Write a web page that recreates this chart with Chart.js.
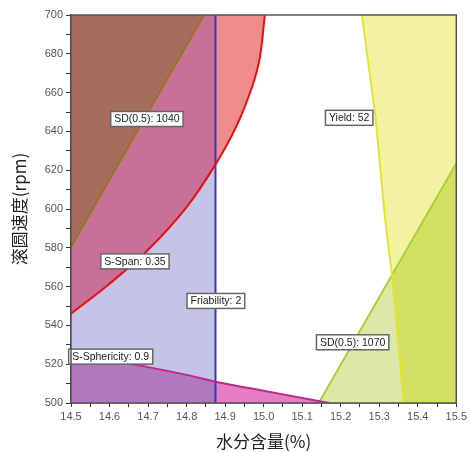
<!DOCTYPE html>
<html>
<head>
<meta charset="utf-8">
<script src="https://cdn.jsdelivr.net/npm/chart.js@4/dist/chart.umd.min.js"></script>
<style>
  html, body { margin: 0; padding: 0; background: #fff; }
  #wrap { width: 470px; height: 452px; }
</style>
</head>
<body>
<div id="wrap"><canvas id="myChart" width="470" height="452"></canvas></div>
<script>
// Contour lines (x = water content %, y = spheronizer speed rpm)
const friabilityX = 14.875;

const sdLowX = [14.5, 14.845];
const sdLowY = [580.5, 700];

const spanX = [14.5, 14.6, 14.7, 14.8, 14.875, 14.93, 14.97, 14.99, 15.003];
const spanY = [546, 561.5, 579, 601, 623, 643, 663, 678, 700];

const sphericityX = [14.5, 14.6, 14.7, 14.8, 14.875, 15.0, 15.1, 15.17];
const sphericityY = [525.5, 522, 518.5, 514.5, 511, 506.3, 502.6, 500];

const yieldX = [15.255, 15.29, 15.315, 15.333, 15.363];
const yieldY = [700, 648, 595, 566, 500];

const sdHighX = [15.143, 15.333, 15.5];
const sdHighY = [500, 566, 623.5];

const labelTexts = ['SD(0.5): 1040', 'Yield: 52', 'S-Span: 0.35', 'Friability: 2', 'S-Sphericity: 0.9', 'SD(0.5): 1070'];
const labelX = [14.697, 15.222, 14.666, 14.876, 14.603, 15.231];
const labelY = [646.4, 647, 573, 552.6, 523.9, 531.3];

// helpers
function pts(xs, ys) {
    return xs.map((x, i) => ({ x: x, y: ys[i] }));
}
function leftOf(points, limit) {
    return points.filter(p => p.x <= limit + 1e-9);
}
function rightOf(points, limit) {
    return points.filter(p => p.x >= limit - 1e-9);
}

const spanPts = pts(spanX, spanY);
const spherPts = pts(sphericityX, sphericityY);
const yieldPts = pts(yieldX, yieldY);
const sdHighPts = pts(sdHighX, sdHighY);
const sdLowPts = pts(sdLowX, sdLowY);

// a filled layer without outline
function area(data, fill, color, order, curved) {
    return {
        data: data, fill: fill, backgroundColor: color,
        borderWidth: 0, pointRadius: 0, order: order,
        tension: curved ? 0.35 : 0
    };
}
// a contour line on top
function edge(data, color, width, curved) {
    return {
        data: data, fill: false, borderColor: color, borderWidth: width,
        pointRadius: 0, order: 1,
        tension: curved ? 0.35 : 0
    };
}

const datasets = [
    // higher order is painted first
    area([{ x: 14.5, y: 700 }, { x: friabilityX, y: 700 }], 'start', '#c4c4e6', 20, false),
    area(spanPts, 'end', '#f08c8c', 19, true),
    area(leftOf(spanPts, friabilityX), 'end', '#c87096', 18, true),
    area(sdLowPts, 'end', '#a86c5c', 17, false),
    area(spherPts, 'start', '#e67cc2', 16, true),
    area(leftOf(spherPts, friabilityX), 'start', '#b078be', 15, true),
    area(yieldPts.concat([{ x: 15.5, y: 500 }]), 'end', '#f2f2a2', 14, false),
    area(sdHighPts, 'start', '#dce8aa', 13, false),
    area(rightOf(sdHighPts, 15.333), 'start', '#d2e064', 12, false),
    area(rightOf(yieldPts, 15.333), 'start', '#dce8aa', 11, false),

    edge(sdLowPts, '#967424', 2, false),
    edge(spanPts, '#e41010', 2, true),
    edge(spherPts, '#c02890', 2, true),
    edge(yieldPts, '#e6e628', 2, false),
    edge(sdHighPts, '#aad232', 2, false),
    edge([{ x: friabilityX, y: 500 }, { x: friabilityX, y: 700 }], '#3838b0', 2, false)
];

// boxed contour labels and the plot frame
const contourLabels = {
    id: 'contourLabels',
    afterDatasetsDraw(chart) {
        const ctx = chart.ctx;
        const xs = chart.scales.x, ys = chart.scales.y;
        ctx.save();
        ctx.font = '10.5px "Liberation Sans", Arial, sans-serif';
        ctx.textAlign = 'center';
        ctx.textBaseline = 'middle';
        labelTexts.forEach((t, i) => {
            const px = xs.getPixelForValue(labelX[i]);
            const py = ys.getPixelForValue(labelY[i]);
            const w = ctx.measureText(t).width + 7;
            const h = 15;
            ctx.fillStyle = '#fff';
            ctx.fillRect(px - w / 2, py - h / 2, w, h);
            ctx.strokeStyle = '#666';
            ctx.lineWidth = 1.5;
            ctx.strokeRect(px - w / 2, py - h / 2, w, h);
            ctx.fillStyle = '#222';
            ctx.fillText(t, px, py + 0.5);
        });
        ctx.restore();
    },
    afterDraw(chart) {
        const a = chart.chartArea;
        const ctx = chart.ctx;
        ctx.save();
        ctx.strokeStyle = '#555';
        ctx.lineWidth = 1.5;
        ctx.strokeRect(a.left, a.top, a.right - a.left, a.bottom - a.top);
        ctx.restore();
    }
};

const tickFont = { family: '"Liberation Sans", Arial, sans-serif', size: 11 };

new Chart(document.getElementById('myChart'), {
    type: 'line',
    data: { datasets: datasets },
    options: {
        responsive: false,
        animation: false,
        layout: { padding: { top: 15, right: 11, left: 0, bottom: 0 } },
        plugins: {
            legend: { display: false },
            tooltip: { enabled: false },
            filler: { propagate: false }
        },
        scales: {
            x: {
                type: 'linear', min: 14.5, max: 15.5,
                afterFit(scale) { scale.height = 49; },
                ticks: {
                    stepSize: 0.05, autoSkip: false, maxRotation: 0, padding: 3,
                    color: '#555', font: tickFont,
                    callback: v => Math.abs(v * 10 - Math.round(v * 10)) < 1e-6 ? v.toFixed(1) : ''
                },
                grid: { drawOnChartArea: false, color: '#333', tickLength: 4 },
                border: { color: '#333', width: 1.5 },
                title: {
                    display: true, text: '水分含量(%)', color: '#222',
                    font: { family: '"Noto Sans CJK SC", sans-serif', size: 17, lineHeight: 1 },
                    padding: { top: 0, bottom: 2 }
                }
            },
            y: {
                min: 500, max: 700,
                afterFit(scale) { scale.width = 71; },
                ticks: {
                    stepSize: 10, autoSkip: false, padding: 3,
                    color: '#555', font: tickFont,
                    callback: v => v % 20 === 0 ? v : ''
                },
                grid: { drawOnChartArea: false, color: '#333', tickLength: 5 },
                border: { color: '#333', width: 1.5 },
                title: {
                    display: true, text: '滚圆速度(rpm)', color: '#222',
                    font: { family: '"Noto Sans CJK SC", sans-serif', size: 17, lineHeight: 1 },
                    padding: { top: 11, bottom: 0 }
                }
            }
        }
    },
    plugins: [contourLabels]
});
</script>
</body>
</html>
